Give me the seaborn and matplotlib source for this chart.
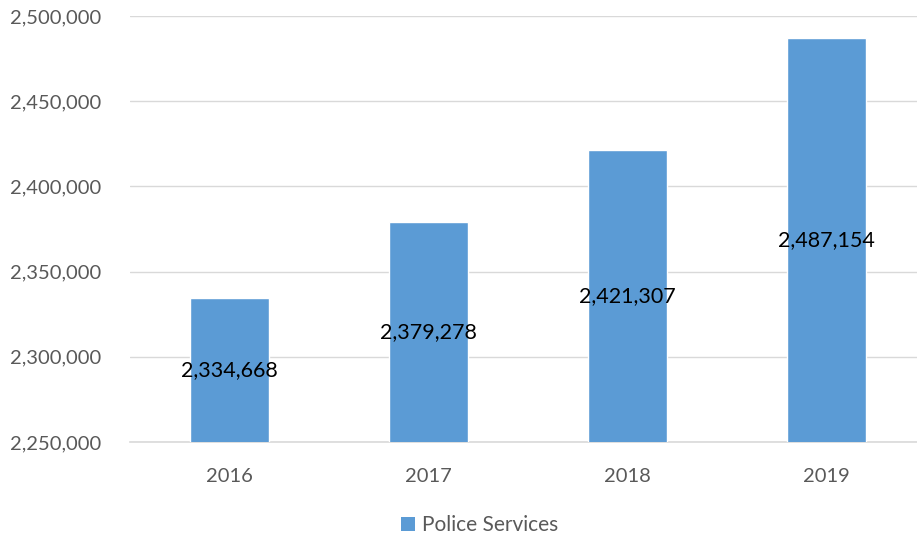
import matplotlib
matplotlib.use("Agg")
import matplotlib.pyplot as plt
import seaborn as sns
import pandas as pd
from matplotlib.ticker import FuncFormatter
from matplotlib.patches import Patch

years = ["2016", "2017", "2018", "2019"]
values = [2334668, 2379278, 2421307, 2487154]
series_name = "Police Services"
y_ticks = [2250000, 2300000, 2350000, 2400000, 2450000, 2500000]

bar_color = "#5B9BD5"
grid_color = "#D9D9D9"
text_gray = "#595959"

sns.set_theme(style="white")
plt.rcParams["font.family"] = ["Lato", "DejaVu Sans"]

df = pd.DataFrame({"year": years, "value": values})

fig = plt.figure(figsize=(9.17, 5.41), dpi=100)
ax = fig.add_axes([130 / 917, 1 - 442 / 541, 796 / 917, (442 - 16) / 541])

sns.barplot(data=df, x="year", y="value", color=bar_color, width=0.4,
            saturation=1, ax=ax, zorder=3)

ax.set_ylim(y_ticks[0], y_ticks[-1])
ax.set_xlim(-0.5, len(years) - 0.5)
ax.set_yticks(y_ticks)
ax.yaxis.set_major_formatter(FuncFormatter(lambda v, p: f"{int(v):,}"))
ax.grid(axis="y", color=grid_color, linewidth=1, zorder=0)
ax.set_axisbelow(True)
for s in ["left", "right", "top"]:
    ax.spines[s].set_visible(False)
ax.spines["bottom"].set_color(grid_color)
ax.spines["bottom"].set_linewidth(1.2)
ax.tick_params(axis="both", length=0, labelsize=14.5, labelcolor=text_gray)
ax.tick_params(axis="y", pad=21)
ax.tick_params(axis="x", pad=19)
ax.set_xlabel("")
ax.set_ylabel("")

base = y_ticks[0]
for patch, v in zip(ax.patches, values):
    cx = patch.get_x() + patch.get_width() / 2
    ax.text(cx, (base + v) / 2, f"{v:,}", ha="center", va="center",
            fontsize=15.5, color="black", zorder=4)

handle = Patch(facecolor=bar_color, edgecolor="none")
fig.legend([handle], [series_name], loc="lower center",
           bbox_to_anchor=(0.523, -0.024), frameon=False, fontsize=15,
           handlelength=0.65, handleheight=0.65, handletextpad=0.35,
           labelcolor=text_gray)

fig.savefig("out.png", dpi=100)
